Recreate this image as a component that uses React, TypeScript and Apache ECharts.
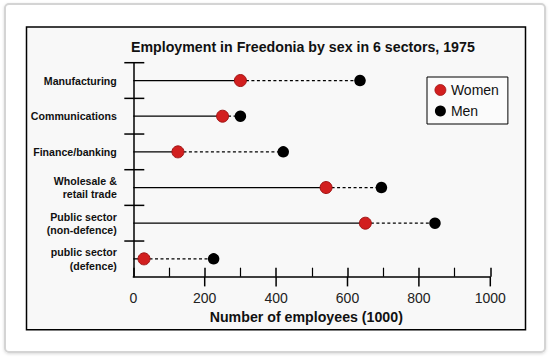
import React, { useEffect, useRef } from "react";
import * as echarts from "echarts";

const categories = [
  "Manufacturing",
  "Communications",
  "Finance/banking",
  "Wholesale &\nretail trade",
  "Public sector\n(non-defence)",
  "public sector\n(defence)",
];
const women = [300, 250, 125, 540, 650, 30];
const men = [635, 300, 420, 695, 845, 225];
const xTickLabels = [0, 200, 400, 600, 800, 1000];
const xMajorTicks = [200, 400, 600, 800, 1000];

export default function App() {
  const ref = useRef<HTMLDivElement>(null);
  useEffect(() => {
    if (!ref.current) return;
    const chart = echarts.init(ref.current, undefined, { renderer: "svg" });
    const option: any = {
      animation: false,
      backgroundColor: "#ffffff",
      graphic: [
        {
          type: "rect",
          z: -10,
          shape: { x: 5, y: 4, width: 540, height: 348, r: 4 },
          style: { fill: "#ffffff", stroke: "#d4d4d4", lineWidth: 2, shadowBlur: 3, shadowColor: "rgba(0,0,0,0.15)", shadowOffsetY: 1 },
        },
        {
          type: "rect",
          z: -9,
          shape: { x: 26.5, y: 27, width: 499, height: 302.7 },
          style: { fill: "#f8f8f8", stroke: "#000000", lineWidth: 1.5 },
        },
      ],
      title: {
        text: "Employment in Freedonia by sex in 6 sectors, 1975",
        left: 131,
        top: 40,
        padding: 0,
        textStyle: { fontFamily: "Liberation Sans", fontWeight: "bold", fontSize: 14.2, color: "#111" },
      },
      legend: {
        orient: "vertical",
        left: 427,
        top: 77,
        padding: [6, 9, 6, 7.5],
        itemGap: 7,
        itemWidth: 11,
        itemHeight: 11,
        backgroundColor: "#fbfbfb",
        borderColor: "#000",
        borderWidth: 1,
        borderRadius: 0,
        textStyle: { fontFamily: "Liberation Sans", fontSize: 14, color: "#111" },
        data: [
          { name: "Women", icon: "circle", itemStyle: { color: "#d21f1f", borderColor: "#a01414", borderWidth: 0.8, opacity: 1 } },
          { name: "Men", icon: "circle", itemStyle: { color: "#000000", borderWidth: 0, opacity: 1 } },
        ],
      },
      grid: { left: 133.3, right: 61.7, top: 62.7, bottom: 80.3, containLabel: false },
      xAxis: {
        type: "value",
        min: 0,
        max: 1000,
        interval: 200,
        name: "Number of employees (1000)",
        nameLocation: "middle",
        nameGap: 31,
        nameTextStyle: { fontFamily: "Liberation Sans", fontWeight: "bold", fontSize: 14.2, color: "#111", padding: [0, 11, 0, 0] },
        axisLine: { show: true, lineStyle: { color: "#000", width: 1.5 } },
        axisTick: { show: true, inside: true, length: 9, lineStyle: { color: "#000", width: 1.5 } },
        minorTick: { show: true, splitNumber: 2, length: 9, lineStyle: { color: "#000", width: 1.2 } },
        splitLine: { show: false },
        axisLabel: {
          margin: 14,
          fontFamily: "Liberation Sans",
          fontSize: 14,
          color: "#222",
          formatter: (v: number) => (xTickLabels.indexOf(v) >= 0 ? String(v) : ""),
        },
      },
      yAxis: {
        type: "category",
        data: categories,
        inverse: true,
        axisLine: { show: true, lineStyle: { color: "#000", width: 1.5 } },
        axisTick: { show: false },
        splitLine: { show: false },
        axisLabel: {
          margin: 16.5,
          fontFamily: "Liberation Sans",
          fontWeight: "bold",
          fontSize: 10.6,
          lineHeight: 13.3,
          color: "#111",
          align: "right",
        },
      },
      series: [
        {
          type: "custom",
          name: "stems",
          silent: true,
          z: 3,
          encode: { x: [0, 1], y: 2 },
          data: categories.map((c, i) => [women[i], men[i], i]),
          renderItem: (params: any, api: any) => {
            const w = api.value(0);
            const m = api.value(1);
            const idx = api.value(2);
            const p0 = api.coord([0, idx]);
            const pw = api.coord([w, idx]);
            const pm = api.coord([m, idx]);
            const band = api.size([0, 1])[1];
            const ty = p0[1] - band / 2;
            return {
              type: "group",
              children: [
                {
                  type: "line",
                  shape: { x1: p0[0] - 9, y1: ty, x2: p0[0] + 11, y2: ty },
                  style: { stroke: "#000", lineWidth: 1.5 },
                },
                {
                  type: "line",
                  shape: { x1: p0[0], y1: p0[1], x2: pw[0], y2: pw[1] },
                  style: { stroke: "#000", lineWidth: 1.3 },
                },
                {
                  type: "line",
                  shape: { x1: pw[0], y1: pw[1], x2: pm[0], y2: pm[1] },
                  style: { stroke: "#000", lineWidth: 1.3, lineDash: [3, 2.5] },
                },
              ],
            };
          },
        },
        {
          type: "custom",
          name: "xticks",
          silent: true,
          z: 3,
          encode: { x: 0 },
          data: xMajorTicks.map((v) => [v]),
          renderItem: (params: any, api: any) => {
            const v = api.value(0);
            const p = api.coord([v, categories.length - 1]);
            const band = api.size([0, 1])[1];
            const by = p[1] + band / 2;
            return {
              type: "line",
              shape: { x1: p[0], y1: by, x2: p[0], y2: by + 9.7 },
              style: { stroke: "#000", lineWidth: 1.5 },
            };
          },
        },
        {
          type: "scatter",
          name: "Women",
          z: 5,
          symbol: "circle",
          symbolSize: 12,
          itemStyle: { color: "#d21f1f", borderColor: "#a01414", borderWidth: 1, opacity: 1 },
          data: women.map((v, i) => [v, i]),
        },
        {
          type: "scatter",
          name: "Men",
          z: 5,
          symbol: "circle",
          symbolSize: 11.5,
          itemStyle: { color: "#000000", opacity: 1 },
          data: men.map((v, i) => [v, i]),
        },
      ],
    };
    chart.setOption(option);
    return () => chart.dispose();
  }, []);
  return (
    <div
      ref={ref}
      style={{ position: "absolute", left: 0, top: 0, width: 552, height: 357 }}
    />
  );
}
